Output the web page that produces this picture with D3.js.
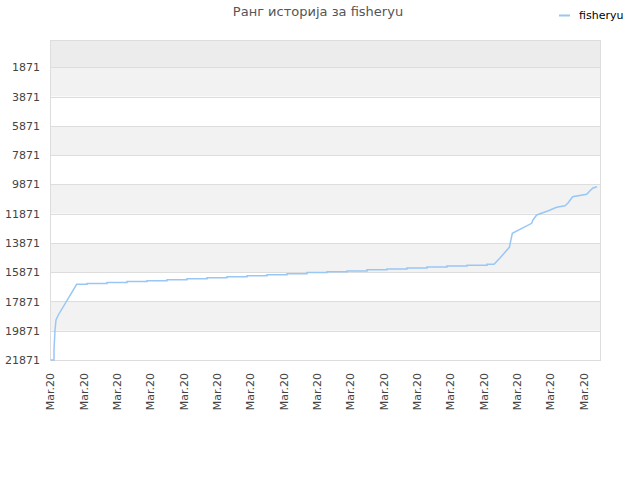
<!DOCTYPE html>
<html>
<head>
<meta charset="utf-8">
<script src="https://cdn.jsdelivr.net/npm/d3@7"></script>
<style>
  body { margin: 0; background: #fff; }
  text { font-family: "DejaVu Sans", sans-serif; }
</style>
</head>
<body>
<svg id="chart" width="640" height="480"></svg>
<script>
// Rank history (day offset within March 2020, rank)
const days = [0.02, 0.12, 0.12, 0.15, 0.18, 0.25, 0.80,
  1.11, 1.11, 1.71, 1.71, 2.31, 2.31, 2.91, 2.91, 3.51, 3.51, 4.11, 4.11,
  4.71, 4.71, 5.31, 5.31, 5.91, 5.91, 6.51, 6.51, 7.11, 7.11, 7.71, 7.71,
  8.31, 8.31, 8.91, 8.91, 9.51, 9.51, 10.11, 10.11, 10.71, 10.71, 11.31, 11.31,
  11.91, 11.91, 12.51, 12.51, 13.11, 13.11, 13.32,
  13.50, 13.78, 13.87, 14.45, 14.49, 14.60, 14.95, 15.20, 15.45, 15.54, 15.68,
  16.10, 16.20, 16.29, 16.41];
const ranks = [21871, 21871, 21187, 19820, 19136, 18794, 16697,
  16697, 16642, 16642, 16580, 16580, 16512, 16512, 16450, 16450, 16381, 16381, 16313,
  16313, 16245, 16245, 16177, 16177, 16108, 16108, 16040, 16040, 15972, 15972, 15890,
  15890, 15842, 15842, 15780, 15780, 15705, 15705, 15644, 15644, 15583, 15583, 15514,
  15514, 15446, 15446, 15391, 15391, 15330, 15330,
  14899, 14168, 13211, 12528, 12302, 11961, 11667, 11434, 11325, 11141, 10710,
  10546, 10300, 10115, 10027];

const yTicks = [1871, 3871, 5871, 7871, 9871, 11871, 13871, 15871, 17871, 19871, 21871];
const xTicks = [0, 1, 2, 3, 4, 5, 6, 7, 8, 9, 10, 11, 12, 13, 14, 15, 16];
const xTickLabel = "Mar.20";
const title = "Ранг историја за fisheryu";
const seriesName = "fisheryu";

const svg = d3.select("#chart");
const margin = { left: 50, right: 40, top: 40, bottom: 120 };
const width = 640 - margin.left - margin.right;
const height = 480 - margin.top - margin.bottom;

const x = d3.scaleLinear().domain([0, 16.5]).range([margin.left, margin.left + width]);
const y = d3.scaleLinear().domain([1, 21871]).range([margin.top, margin.top + height]);

// Alternating background bands between the grid lines
const bandEdges = [1].concat(yTicks);
const bands = d3.pairs(bandEdges).map((p, i) => ({ from: p[0], to: p[1], i }));
svg.append("g")
  .selectAll("rect")
  .data(bands)
  .join("rect")
  .attr("x", margin.left)
  .attr("width", width)
  .attr("y", d => y(d.from))
  .attr("height", d => y(d.to) - y(d.from))
  .attr("fill", d => d.i === 0 ? "#ececec" : (d.i % 2 === 1 ? "#f2f2f2" : "#ffffff"));

// Grid lines
svg.append("g")
  .selectAll("line")
  .data(yTicks)
  .join("line")
  .attr("x1", margin.left)
  .attr("x2", margin.left + width)
  .attr("y1", d => Math.round(y(d)) + 0.5)
  .attr("y2", d => Math.round(y(d)) + 0.5)
  .attr("stroke", "#dddddd");

// Plot border
svg.append("rect")
  .attr("x", margin.left + 0.5)
  .attr("y", margin.top + 0.5)
  .attr("width", width)
  .attr("height", height)
  .attr("fill", "none")
  .attr("stroke", "#dddddd");

// Y axis labels
const yAxis = svg.append("g")
  .attr("transform", `translate(${margin.left},0)`)
  .call(d3.axisLeft(y).tickValues(yTicks).tickFormat(d3.format("d")).tickSize(0).tickPadding(10));
yAxis.select(".domain").remove();
yAxis.selectAll("text")
  .attr("font-size", 11)
  .attr("fill", "#444")
  .attr("font-family", "DejaVu Sans, sans-serif");

// X axis labels (rotated)
const xAxis = svg.append("g")
  .attr("transform", `translate(0,${margin.top + height})`)
  .call(d3.axisBottom(x).tickValues(xTicks).tickFormat(() => xTickLabel).tickSize(0));
xAxis.select(".domain").remove();
xAxis.selectAll("text")
  .attr("font-size", 11)
  .attr("fill", "#444")
  .attr("font-family", "Liberation Sans, Arial, sans-serif")
  .attr("text-anchor", "end")
  .attr("dy", "0.35em")
  .attr("transform", "translate(0,13) rotate(-90)")
  .attr("x", 0)
  .attr("y", 0);

// Series line
const points = days.map((d, i) => ({ day: d, rank: ranks[i] }));
svg.append("path")
  .datum(points)
  .attr("fill", "none")
  .attr("stroke", "#99c7f5")
  .attr("stroke-width", 1.5)
  .attr("d", d3.line().x(d => x(d.day)).y(d => y(d.rank)));

// Title
svg.append("text")
  .attr("x", 318)
  .attr("y", 16)
  .attr("text-anchor", "middle")
  .attr("font-size", 13)
  .attr("fill", "#555")
  .text(title);

// Legend
svg.append("line")
  .attr("x1", 559).attr("x2", 570)
  .attr("y1", 15.5).attr("y2", 15.5)
  .attr("stroke", "#99c7f5")
  .attr("stroke-width", 2);
svg.append("text")
  .attr("x", 579)
  .attr("y", 19)
  .attr("font-size", 11)
  .attr("font-family", "Liberation Sans, Arial, sans-serif")
  .attr("fill", "#000")
  .text(seriesName);
</script>
</body>
</html>
